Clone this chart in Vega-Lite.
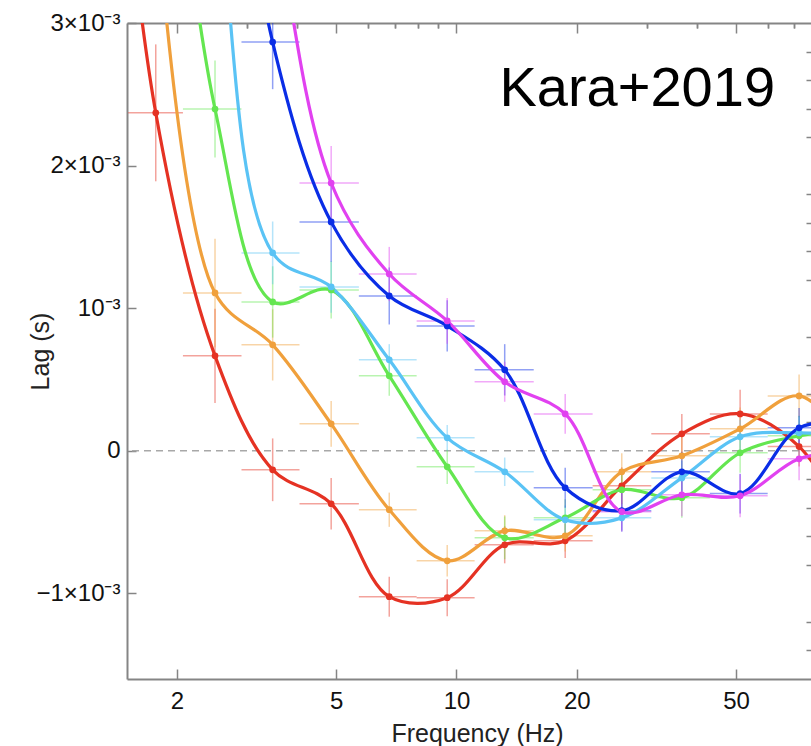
{
  "$schema": "https://vega.github.io/schema/vega-lite/v6.json",
  "width": 684,
  "height": 656,
  "autosize": {"type": "none"},
  "padding": {"left": 127, "top": 23, "right": 0, "bottom": 67},
  "background": "white",
  "config": {"view": {"stroke": null}, "font": "Liberation Sans"},
  "datasets": {
    "zero": [{"lag": 0}],
    "label": [{"f": 62.6, "lag": 0.00242, "t": "Kara+2019"}],
    "pts": [
      {"s": "Epoch 1", "f": 1.26, "lag": 0.006},
      {"s": "Epoch 1", "f": 1.77, "flo": 1.51, "fhi": 2.07, "lag": 0.00237, "lo": 0.00189, "hi": 0.00285},
      {"s": "Epoch 1", "f": 2.49, "flo": 2.07, "fhi": 2.9, "lag": 0.000666, "lo": 0.000336, "hi": 0.000996},
      {"s": "Epoch 1", "f": 3.47, "flo": 2.9, "fhi": 4.05, "lag": -0.000133, "lo": -0.000353, "hi": 0.000087},
      {"s": "Epoch 1", "f": 4.86, "flo": 4.05, "fhi": 5.7, "lag": -0.000371, "lo": -0.000551, "hi": -0.000191},
      {"s": "Epoch 1", "f": 6.79, "flo": 5.7, "fhi": 7.95, "lag": -0.001023, "lo": -0.001163, "hi": -0.000883},
      {"s": "Epoch 1", "f": 9.48, "flo": 7.95, "fhi": 11.1, "lag": -0.00103, "lo": -0.00116, "hi": -0.0009},
      {"s": "Epoch 1", "f": 13.2, "flo": 11.1, "fhi": 15.6, "lag": -0.000659, "lo": -0.000789, "hi": -0.000529},
      {"s": "Epoch 1", "f": 18.7, "flo": 15.6, "fhi": 21.9, "lag": -0.000631, "lo": -0.000751, "hi": -0.000511},
      {"s": "Epoch 1", "f": 25.9, "flo": 21.9, "fhi": 30.7, "lag": -0.000245, "lo": -0.000375, "hi": -0.000115},
      {"s": "Epoch 1", "f": 36.6, "flo": 30.7, "fhi": 43, "lag": 0.000119, "lo": -0.000021, "hi": 0.000259},
      {"s": "Epoch 1", "f": 51.2, "flo": 43, "fhi": 60, "lag": 0.000259, "lo": 0.000089, "hi": 0.000429},
      {"s": "Epoch 1", "f": 71.9, "flo": 60, "fhi": 84, "lag": 0.00003, "lo": -0.00011, "hi": 0.00017},
      {"s": "Epoch 1", "f": 100, "lag": -0.0006},

      {"s": "Epoch 2", "f": 1.77, "lag": 0.0039},
      {"s": "Epoch 2", "f": 2.49, "flo": 2.07, "fhi": 2.9, "lag": 0.001107, "lo": 0.000727, "hi": 0.001487},
      {"s": "Epoch 2", "f": 3.47, "flo": 2.9, "fhi": 4.05, "lag": 0.000743, "lo": 0.000493, "hi": 0.000993},
      {"s": "Epoch 2", "f": 4.86, "flo": 4.05, "fhi": 5.7, "lag": 0.000189, "lo": 0.000029, "hi": 0.000349},
      {"s": "Epoch 2", "f": 6.79, "flo": 5.7, "fhi": 7.95, "lag": -0.000413, "lo": -0.000533, "hi": -0.000293},
      {"s": "Epoch 2", "f": 9.48, "flo": 7.95, "fhi": 11.1, "lag": -0.000771, "lo": -0.000881, "hi": -0.000661},
      {"s": "Epoch 2", "f": 13.2, "flo": 11.1, "fhi": 15.6, "lag": -0.000561, "lo": -0.000671, "hi": -0.000451},
      {"s": "Epoch 2", "f": 18.7, "flo": 15.6, "fhi": 21.9, "lag": -0.000596, "lo": -0.000706, "hi": -0.000486},
      {"s": "Epoch 2", "f": 25.9, "flo": 21.9, "fhi": 30.7, "lag": -0.000147, "lo": -0.000277, "hi": -0.000017},
      {"s": "Epoch 2", "f": 36.6, "flo": 30.7, "fhi": 43, "lag": -0.000035, "lo": -0.000175, "hi": 0.000105},
      {"s": "Epoch 2", "f": 51.2, "flo": 43, "fhi": 60, "lag": 0.000154, "lo": 0.000004, "hi": 0.000304},
      {"s": "Epoch 2", "f": 71.9, "flo": 60, "fhi": 84, "lag": 0.000385, "lo": 0.000235, "hi": 0.000535},
      {"s": "Epoch 2", "f": 100, "lag": 0.0},

      {"s": "Epoch 3", "f": 1.77, "lag": 0.0055},
      {"s": "Epoch 3", "f": 2.49, "flo": 2.07, "fhi": 2.9, "lag": 0.002397, "lo": 0.002057, "hi": 0.002737},
      {"s": "Epoch 3", "f": 3.47, "flo": 2.9, "fhi": 4.05, "lag": 0.001044, "lo": 0.000794, "hi": 0.001294},
      {"s": "Epoch 3", "f": 4.86, "flo": 4.05, "fhi": 5.7, "lag": 0.001128, "lo": 0.000928, "hi": 0.001328},
      {"s": "Epoch 3", "f": 6.79, "flo": 5.7, "fhi": 7.95, "lag": 0.000526, "lo": 0.000386, "hi": 0.000666},
      {"s": "Epoch 3", "f": 9.48, "flo": 7.95, "fhi": 11.1, "lag": -0.000112, "lo": -0.000232, "hi": 0.000008},
      {"s": "Epoch 3", "f": 13.2, "flo": 11.1, "fhi": 15.6, "lag": -0.00061, "lo": -0.00076, "hi": -0.00046},
      {"s": "Epoch 3", "f": 18.7, "flo": 15.6, "fhi": 21.9, "lag": -0.00047, "lo": -0.0006, "hi": -0.00034},
      {"s": "Epoch 3", "f": 25.9, "flo": 21.9, "fhi": 30.7, "lag": -0.000273, "lo": -0.000413, "hi": -0.000133},
      {"s": "Epoch 3", "f": 36.6, "flo": 30.7, "fhi": 43, "lag": -0.000329, "lo": -0.000469, "hi": -0.000189},
      {"s": "Epoch 3", "f": 51.2, "flo": 43, "fhi": 60, "lag": -0.000014, "lo": -0.000154, "hi": 0.000126},
      {"s": "Epoch 3", "f": 71.9, "flo": 60, "fhi": 84, "lag": 0.000105, "lo": -0.000035, "hi": 0.000245},
      {"s": "Epoch 3", "f": 100, "lag": 0.00015},

      {"s": "Epoch 4", "f": 1.77, "lag": 0.008},
      {"s": "Epoch 4", "f": 2.49, "lag": 0.0042},
      {"s": "Epoch 4", "f": 3.47, "flo": 2.9, "fhi": 4.05, "lag": 0.001388, "lo": 0.001168, "hi": 0.001608},
      {"s": "Epoch 4", "f": 4.86, "flo": 4.05, "fhi": 5.7, "lag": 0.001149, "lo": 0.000969, "hi": 0.001329},
      {"s": "Epoch 4", "f": 6.79, "flo": 5.7, "fhi": 7.95, "lag": 0.000638, "lo": 0.000528, "hi": 0.000748},
      {"s": "Epoch 4", "f": 9.48, "flo": 7.95, "fhi": 11.1, "lag": 0.000091, "lo": 0.000001, "hi": 0.000181},
      {"s": "Epoch 4", "f": 13.2, "flo": 11.1, "fhi": 15.6, "lag": -0.000147, "lo": -0.000247, "hi": -0.000047},
      {"s": "Epoch 4", "f": 18.7, "flo": 15.6, "fhi": 21.9, "lag": -0.000484, "lo": -0.000584, "hi": -0.000384},
      {"s": "Epoch 4", "f": 25.9, "flo": 21.9, "fhi": 30.7, "lag": -0.00047, "lo": -0.00057, "hi": -0.00037},
      {"s": "Epoch 4", "f": 36.6, "flo": 30.7, "fhi": 43, "lag": -0.00019, "lo": -0.00031, "hi": -0.00007},
      {"s": "Epoch 4", "f": 51.2, "flo": 43, "fhi": 60, "lag": 0.000098, "lo": -0.000022, "hi": 0.000218},
      {"s": "Epoch 4", "f": 71.9, "flo": 60, "fhi": 84, "lag": 0.000126, "lo": 0.000006, "hi": 0.000246},
      {"s": "Epoch 4", "f": 100, "lag": 0.0001},

      {"s": "Epoch 5", "f": 1.77, "lag": 0.009},
      {"s": "Epoch 5", "f": 2.49, "lag": 0.0055},
      {"s": "Epoch 5", "f": 3.47, "flo": 2.9, "fhi": 4.05, "lag": 0.002866, "lo": 0.002536, "hi": 0.003196},
      {"s": "Epoch 5", "f": 4.86, "flo": 4.05, "fhi": 5.7, "lag": 0.001605, "lo": 0.001325, "hi": 0.001885},
      {"s": "Epoch 5", "f": 6.79, "flo": 5.7, "fhi": 7.95, "lag": 0.001086, "lo": 0.000886, "hi": 0.001286},
      {"s": "Epoch 5", "f": 9.48, "flo": 7.95, "fhi": 11.1, "lag": 0.000876, "lo": 0.000696, "hi": 0.001056},
      {"s": "Epoch 5", "f": 13.2, "flo": 11.1, "fhi": 15.6, "lag": 0.000568, "lo": 0.000388, "hi": 0.000748},
      {"s": "Epoch 5", "f": 18.7, "flo": 15.6, "fhi": 21.9, "lag": -0.000259, "lo": -0.000399, "hi": -0.000119},
      {"s": "Epoch 5", "f": 25.9, "flo": 21.9, "fhi": 30.7, "lag": -0.00042, "lo": -0.00056, "hi": -0.00028},
      {"s": "Epoch 5", "f": 36.6, "flo": 30.7, "fhi": 43, "lag": -0.000147, "lo": -0.000287, "hi": -0.000007},
      {"s": "Epoch 5", "f": 51.2, "flo": 43, "fhi": 60, "lag": -0.0003, "lo": -0.00044, "hi": -0.00016},
      {"s": "Epoch 5", "f": 71.9, "flo": 60, "fhi": 84, "lag": 0.000161, "lo": 0.000021, "hi": 0.000301},
      {"s": "Epoch 5", "f": 100, "lag": 0.0002},

      {"s": "Epoch 6", "f": 2.49, "lag": 0.0065},
      {"s": "Epoch 6", "f": 3.47, "lag": 0.0039},
      {"s": "Epoch 6", "f": 4.86, "flo": 4.05, "fhi": 5.7, "lag": 0.001878, "lo": 0.001618, "hi": 0.002138},
      {"s": "Epoch 6", "f": 6.79, "flo": 5.7, "fhi": 7.95, "lag": 0.00124, "lo": 0.00105, "hi": 0.00143},
      {"s": "Epoch 6", "f": 9.48, "flo": 7.95, "fhi": 11.1, "lag": 0.000911, "lo": 0.000751, "hi": 0.001071},
      {"s": "Epoch 6", "f": 13.2, "flo": 11.1, "fhi": 15.6, "lag": 0.000484, "lo": 0.000344, "hi": 0.000624},
      {"s": "Epoch 6", "f": 18.7, "flo": 15.6, "fhi": 21.9, "lag": 0.000259, "lo": 0.000119, "hi": 0.000399},
      {"s": "Epoch 6", "f": 25.9, "flo": 21.9, "fhi": 30.7, "lag": -0.000427, "lo": -0.000567, "hi": -0.000287},
      {"s": "Epoch 6", "f": 36.6, "flo": 30.7, "fhi": 43, "lag": -0.000308, "lo": -0.000458, "hi": -0.000158},
      {"s": "Epoch 6", "f": 51.2, "flo": 43, "fhi": 60, "lag": -0.000315, "lo": -0.000465, "hi": -0.000165},
      {"s": "Epoch 6", "f": 71.9, "flo": 60, "fhi": 84, "lag": -0.000056, "lo": -0.000206, "hi": 0.000094},
      {"s": "Epoch 6", "f": 100, "lag": 0.0}
    ]
  },
  "resolve": {"axis": {"x": "independent", "y": "independent"}},
  "layer": [
    {
      "data": {"name": "zero"},
      "mark": {"type": "rule", "color": "#a8a8a8", "strokeWidth": 1.5, "strokeDash": [7, 5]},
      "encoding": {
        "y": {
          "field": "lag", "type": "quantitative",
          "scale": {"domain": [-0.0016, 0.003], "nice": false, "zero": false},
          "axis": {
            "values": [-0.001, 0, 0.001, 0.002, 0.003],
            "labelExpr": "datum.value > 0.0025 ? '3×10⁻³' : datum.value > 0.0015 ? '2×10⁻³' : datum.value > 0.0005 ? '10⁻³' : datum.value > -0.0005 ? '0' : '−1×10⁻³'",
            "grid": false,
            "tickSize": -9, "tickWidth": 1.5, "tickColor": "#858585",
            "domainColor": "#858585", "domainWidth": 2,
            "labelPadding": 16, "labelFontSize": 24, "labelColor": "#111111", "labelFont": "Liberation Sans",
            "title": "Lag (s)", "titleFontSize": 25, "titleFontWeight": "normal", "titleColor": "#222222",
            "titleFont": "Liberation Sans", "titleX": -79, "titleBaseline": "alphabetic", "titleAngle": -90
          }
        }
      }
    },
    {
      "data": {"name": "pts"},
      "transform": [{"filter": "isValid(datum.lo)"}],
      "mark": {"type": "rule", "strokeWidth": 1.5, "opacity": 0.45, "clip": true},
      "encoding": {
        "x": {
          "field": "flo", "type": "quantitative",
          "scale": {"type": "log", "domain": [1.5, 77], "nice": false, "zero": false},
          "axis": {
            "values": [2, 5, 10, 20, 50], "grid": false,
            "tickSize": -10, "tickWidth": 1.5, "tickColor": "#858585",
            "domainColor": "#858585", "domainWidth": 2,
            "labelPadding": 39, "labelBaseline": "alphabetic", "labelFontSize": 24, "labelColor": "#111111",
            "labelFont": "Liberation Sans", "labelExpr": "datum.value",
            "title": "Frequency (Hz)", "titleFontSize": 25, "titleFontWeight": "normal", "titleColor": "#222222",
            "titleFont": "Liberation Sans", "titleX": 350, "titleY": 62, "titleBaseline": "alphabetic"
          }
        },
        "x2": {"field": "fhi"},
        "y": {
          "field": "lag", "type": "quantitative",
          "scale": {"domain": [-0.0016, 0.003], "nice": false, "zero": false},
          "axis": {
            "values": [-0.0014, -0.0012, -0.0008, -0.0006, -0.0004, -0.0002, 0.0002, 0.0004, 0.0006, 0.0008, 0.0012, 0.0014, 0.0016, 0.0018, 0.0022, 0.0024, 0.0026, 0.0028],
            "labels": false, "domain": false, "grid": false, "title": null,
            "tickSize": -5, "tickWidth": 1.5, "tickColor": "#858585"
          }
        },
        "color": {
          "field": "s", "type": "nominal", "legend": null,
          "scale": {"domain": ["Epoch 1", "Epoch 2", "Epoch 3", "Epoch 4", "Epoch 5", "Epoch 6"],
                    "range": ["#e53223", "#f0a03c", "#64e650", "#5ac3f5", "#0a2de6", "#e141f0"]}
        }
      }
    },
    {
      "data": {"name": "pts"},
      "transform": [{"filter": "isValid(datum.lo)"}],
      "mark": {"type": "rule", "strokeWidth": 1.5, "opacity": 0.45, "clip": true},
      "encoding": {
        "x": {
          "field": "f", "type": "quantitative",
          "scale": {"type": "log", "domain": [1.5, 77], "nice": false, "zero": false},
          "axis": {
            "values": [3, 4, 6, 7, 8, 9, 30, 40, 60, 70], "labels": false, "domain": false, "grid": false, "title": null,
            "tickSize": -5, "tickWidth": 1.5, "tickColor": "#858585"
          }
        },
        "y": {
          "field": "lo", "type": "quantitative",
          "scale": {"domain": [-0.0016, 0.003], "nice": false, "zero": false},
          "axis": null
        },
        "y2": {"field": "hi"},
        "color": {"field": "s", "type": "nominal", "legend": null}
      }
    },
    {
      "data": {"name": "pts"},
      "mark": {"type": "line", "strokeWidth": 3.2, "interpolate": "catmull-rom", "clip": true},
      "encoding": {
        "x": {
          "field": "f", "type": "quantitative",
          "scale": {"type": "log", "domain": [1.5, 77], "nice": false, "zero": false},
          "axis": {
            "orient": "top", "values": [2, 5, 10, 20, 50], "labels": false, "grid": false, "title": null,
            "tickSize": -10, "tickWidth": 1.5, "tickColor": "#858585",
            "domainColor": "#858585", "domainWidth": 2
          }
        },
        "y": {
          "field": "lag", "type": "quantitative",
          "scale": {"domain": [-0.0016, 0.003], "nice": false, "zero": false},
          "axis": null
        },
        "color": {"field": "s", "type": "nominal", "legend": null}
      }
    },
    {
      "data": {"name": "pts"},
      "transform": [{"filter": "isValid(datum.lo)"}],
      "mark": {"type": "circle", "size": 45, "opacity": 1, "clip": true},
      "encoding": {
        "x": {
          "field": "f", "type": "quantitative",
          "scale": {"type": "log", "domain": [1.5, 77], "nice": false, "zero": false},
          "axis": {
            "orient": "top", "values": [3, 4, 6, 7, 8, 9, 30, 40, 60, 70], "labels": false, "domain": false, "grid": false, "title": null,
            "tickSize": -5, "tickWidth": 1.5, "tickColor": "#858585"
          }
        },
        "y": {
          "field": "lag", "type": "quantitative",
          "scale": {"domain": [-0.0016, 0.003], "nice": false, "zero": false},
          "axis": null
        },
        "color": {"field": "s", "type": "nominal", "legend": null}
      }
    },
    {
      "data": {"name": "label"},
      "mark": {"type": "text", "align": "right", "baseline": "alphabetic", "fontSize": 56, "font": "Liberation Sans", "color": "#000000"},
      "encoding": {
        "x": {"field": "f", "type": "quantitative", "scale": {"type": "log", "domain": [1.5, 77], "nice": false, "zero": false}, "axis": null},
        "y": {"field": "lag", "type": "quantitative", "scale": {"domain": [-0.0016, 0.003], "nice": false, "zero": false}, "axis": null},
        "text": {"field": "t"}
      }
    }
  ]
}
